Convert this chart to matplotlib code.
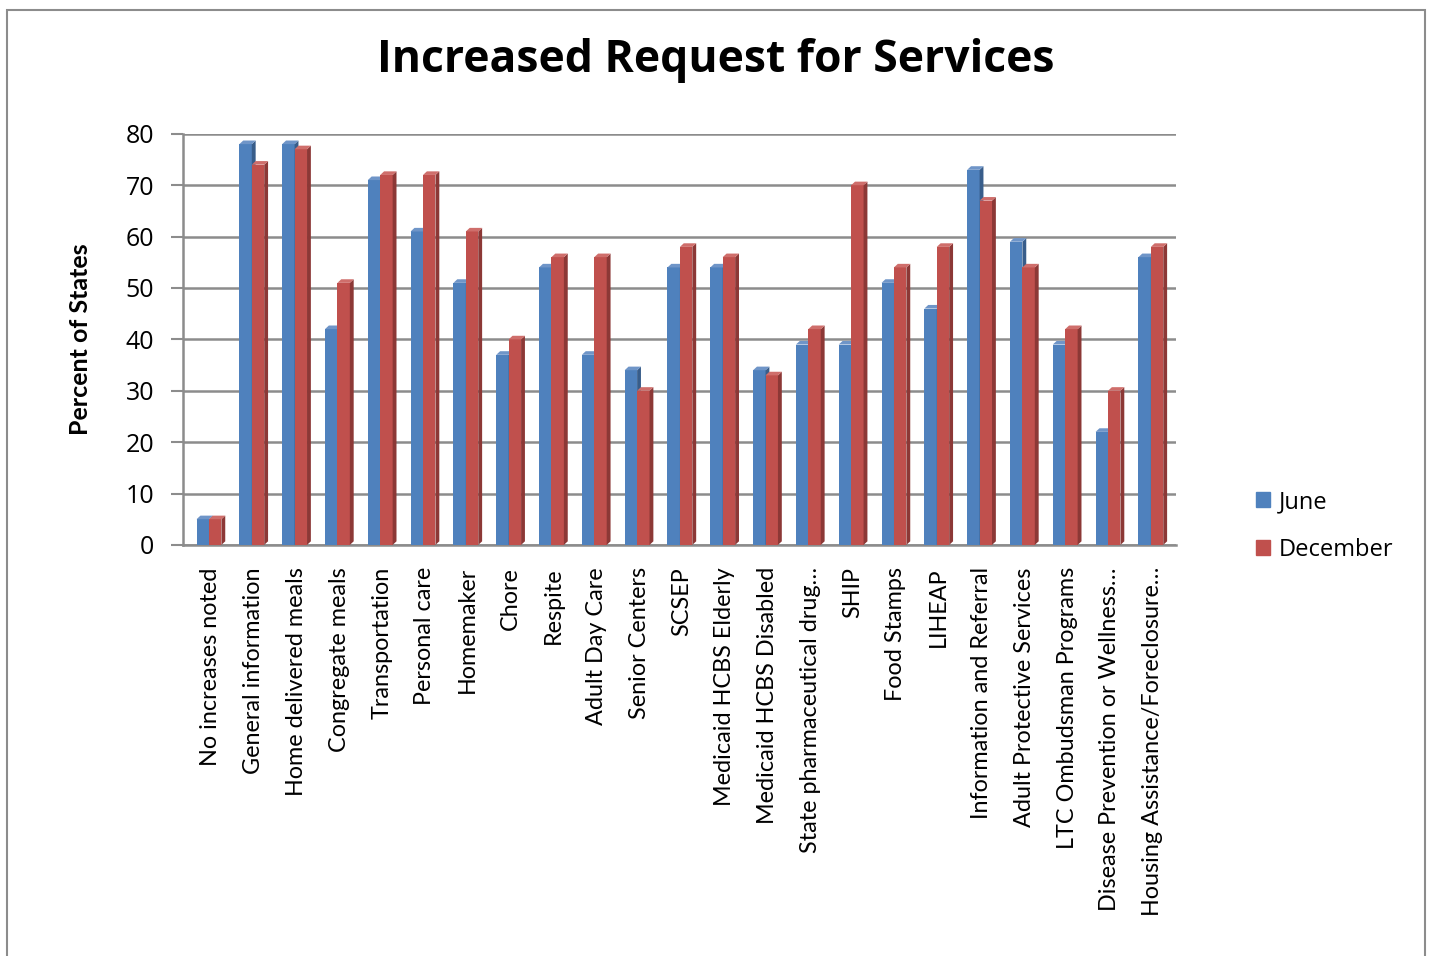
import matplotlib
matplotlib.use("Agg")
import matplotlib.pyplot as plt
from matplotlib.patches import Polygon, Rectangle
import numpy as np

categories = [
    "No increases noted", "General information", "Home delivered meals",
    "Congregate meals", "Transportation", "Personal care", "Homemaker",
    "Chore", "Respite", "Adult Day Care", "Senior Centers", "SCSEP",
    "Medicaid HCBS Elderly", "Medicaid HCBS Disabled",
    "State pharmaceutical drug\u2026", "SHIP", "Food Stamps", "LIHEAP",
    "Information and Referral", "Adult Protective Services",
    "LTC Ombudsman Programs", "Disease Prevention or Wellness\u2026",
    "Housing Assistance/Foreclosure\u2026",
]
june = [5, 78, 78, 42, 71, 61, 51, 37, 54, 37, 34, 54, 54, 34, 39, 39,
        51, 46, 73, 59, 39, 22, 56]
december = [5, 74, 77, 51, 72, 72, 61, 40, 56, 56, 30, 58, 56, 33, 42, 70,
            54, 58, 67, 54, 42, 30, 58]
yticks = [0, 10, 20, 30, 40, 50, 60, 70, 80]

BLUE = "#4F81BD"
RED = "#C0504D"
# side / top shades for the pseudo-3D look
SHADES = {BLUE: ("#385D8A", "#6F95C8"), RED: ("#8C3836", "#CF6E6B")}

plt.rcParams["font.family"] = ["Lato", "DejaVu Sans"]

fig = plt.figure(figsize=(14.32, 9.56), dpi=100)
ax = fig.add_axes([0.128, 0.43, 0.693, 0.43])

x = np.arange(len(categories))
w = 0.29
dx, dy = 0.09, 0.7


def bars_3d(xpos, values, color, z):
    side, top = SHADES[color]
    bars = ax.bar(xpos, values, w, color=color, zorder=z, linewidth=0)
    for r in bars:
        x0, x1, h = r.get_x(), r.get_x() + r.get_width(), r.get_height()
        ax.add_patch(Polygon([(x1, 0), (x1 + dx, dy), (x1 + dx, h + dy), (x1, h)],
                             closed=True, color=side, zorder=z, linewidth=0))
        ax.add_patch(Polygon([(x0, h), (x0 + dx, h + dy), (x1 + dx, h + dy), (x1, h)],
                             closed=True, color=top, zorder=z, linewidth=0))
    return bars


b1 = bars_3d(x - w / 2, june, BLUE, 3)
b2 = bars_3d(x + w / 2, december, RED, 4)

ax.set_xlim(-0.6, len(categories) - 0.42)
ax.set_ylim(0, 80)
ax.set_yticks(yticks)
ax.yaxis.grid(True, color="#8C8C8C", linewidth=1.8)
ax.set_axisbelow(True)
for s in ["top", "right"]:
    ax.spines[s].set_visible(False)
ax.spines["left"].set_color("#8C8C8C")
ax.spines["left"].set_linewidth(1.8)
ax.spines["bottom"].set_color("#8C8C8C")
ax.spines["bottom"].set_linewidth(1.8)
ax.tick_params(axis="y", length=9, width=1.5, color="#8C8C8C", pad=12)
ax.tick_params(axis="x", length=0, pad=16)
ax.set_xticks(x + dx / 2)
ax.set_xticklabels(categories, rotation=90, fontsize=16.8, va="top", ha="center")
for lab in ax.get_yticklabels():
    lab.set_family(["Open Sans", "DejaVu Sans"])
    lab.set_fontsize(18)
ax.set_ylabel("Percent of States", fontsize=18, fontweight="bold", labelpad=24)

fig.text(0.5, 0.937, "Increased Request for Services", ha="center", va="center",
         fontsize=32, fontweight="bold", family=["Open Sans", "DejaVu Sans"])

fig.legend([Rectangle((0, 0), 1, 1, color=BLUE), Rectangle((0, 0), 1, 1, color=RED)],
           ["June", "December"], loc="center left", bbox_to_anchor=(0.862, 0.45),
           frameon=False, handlelength=0.6, handleheight=0.6,
           handletextpad=0.4, labelspacing=1.0,
           prop={"family": ["Open Sans", "DejaVu Sans"], "size": 17})

# outer chart border
fig.patches.append(Rectangle((0.005, -0.01), 0.99, 1.0, transform=fig.transFigure,
                             fill=False, edgecolor="#8C8C8C", linewidth=1.5))

fig.savefig("out.png", dpi=100)
